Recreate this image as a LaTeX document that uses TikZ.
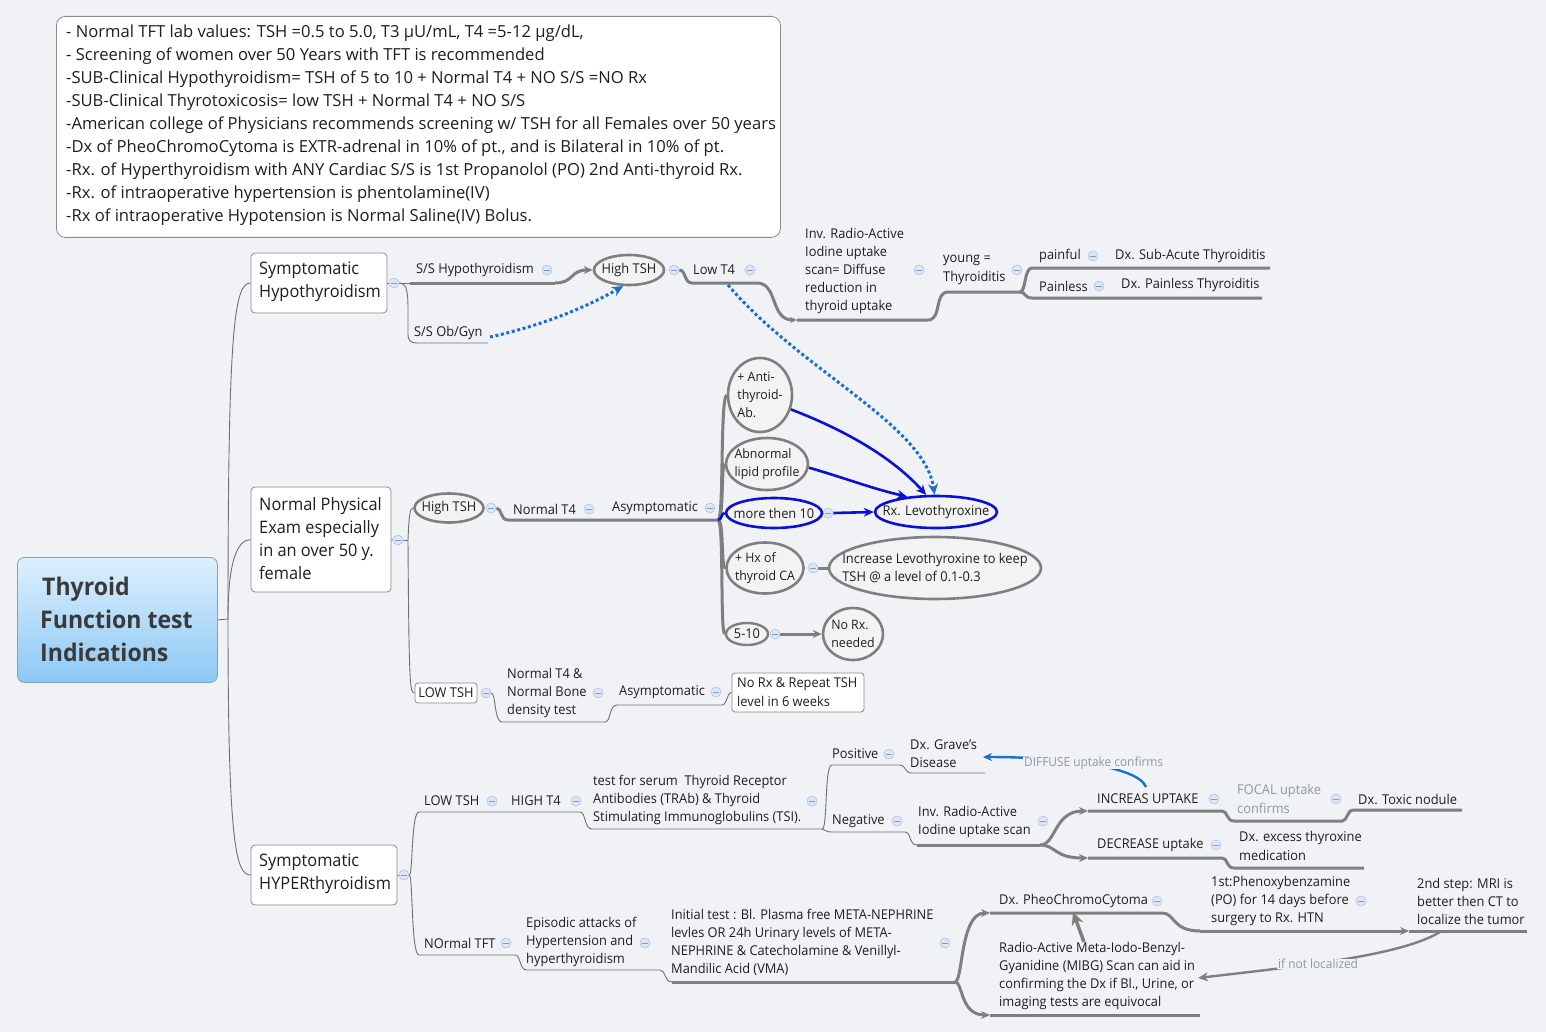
\documentclass[tikz,border=0pt]{standalone}
\usepackage{fontspec}
\setmainfont{Open Sans}[FakeStretch=0.95]
\newfontfamily\notesfont{Open Sans}[FakeStretch=1.0]
\usetikzlibrary{shapes.geometric,arrows.meta}
\pgfdeclarelayer{back}
\pgfdeclarelayer{lines}
\pgfsetlayers{back,lines,main}
\definecolor{bgc}{HTML}{F0F2F6}
\definecolor{lg}{HTML}{7F7F7F}
\definecolor{tg}{HTML}{707070}
\definecolor{txc}{HTML}{1E1E1E}
\definecolor{boxd}{HTML}{8A8A8A}
\definecolor{ellf}{HTML}{F3F3F3}
\definecolor{bblue}{HTML}{0A10D6}
\definecolor{dblue}{HTML}{1A6FD0}
\definecolor{foldf}{HTML}{DCE6F4}
\definecolor{foldd}{HTML}{AEC3E2}
\definecolor{foldm}{HTML}{7F9CC8}
\definecolor{roott}{HTML}{DDEFFD}
\definecolor{rootb}{HTML}{8CC8F5}
\definecolor{rootd}{HTML}{7BA3C6}
\definecolor{roottx}{HTML}{3A3A3A}
\definecolor{softtx}{HTML}{8C99A8}
\begin{document}
\begin{tikzpicture}[x=1pt,y=-1pt,
  txt/.style={inner sep=0pt, anchor=west, align=left, text=txc, font=\fontsize{13.5}{18}\selectfont},
  etxt/.style={txt, anchor=center, font=\fontsize{13}{18}\selectfont},
  bigtxt/.style={txt, font=\fontsize{17.2}{23}\selectfont},
  soft/.style={txt, text=softtx},
  fold/.style={circle, inner sep=0pt, minimum size=10pt, fill=foldf, draw=foldd, line width=0.6pt,
    path picture={\draw[foldm, line width=0.9pt] ([xshift=-2.6pt]path picture bounding box.center) -- ([xshift=2.6pt]path picture bounding box.center);}},
  thk/.style={draw=lg, line width=3pt},
  thn/.style={draw=tg, line width=0.9pt},
  ell/.style={ellipse, draw=lg, line width=2.6pt, fill=ellf, inner sep=0pt},
  bell/.style={ell, draw=bblue},
  topicbox/.style={rectangle, rounded corners=4pt, draw=boxd, fill=white, line width=0.8pt, inner sep=0pt},
  garr/.style={-{Stealth[length=9pt,width=8pt]}},
  barr/.style={draw=bblue, line width=2.6pt, -{Stealth[length=10pt,width=9pt]}},
  bline/.style={draw=bblue, line width=2.6pt},
  dotl/.style={draw=dblue, line width=3pt, dash pattern=on 3pt off 2.6pt, -{Stealth[length=11pt,width=10pt]}},
]
\begin{pgfonlayer}{back}
\fill[bgc] (0,0) rectangle (1546,1032);
\end{pgfonlayer}
\useasboundingbox (0,0) rectangle (1546,1032);

% notes
\node[topicbox, rounded corners=9pt, minimum width=724pt, minimum height=221pt, anchor=north west] (notes) at (56,16) {};
\node[txt, font=\notesfont\fontsize{16.6}{23}\selectfont] (notes-t) at (66,125) {- Normal TFT lab values: TSH =0.5 to 5.0, T3 µU/mL, T4 =5-12 µg/dL,\\- Screening of women over 50 Years with TFT is recommended\\-SUB-Clinical Hypothyroidism= TSH of 5 to 10 + Normal T4 + NO S/S =NO Rx\\-SUB-Clinical Thyrotoxicosis= low TSH + Normal T4 + NO S/S\\-American college of Physicians recommends screening w/ TSH for all Females over 50 years\\-Dx of PheoChromoCytoma is EXTR-adrenal in 10\% of pt., and is Bilateral in 10\% of pt.\\-Rx. of Hyperthyroidism with ANY Cardiac S/S is 1st Propanolol (PO) 2nd Anti-thyroid Rx.\\-Rx. of intraoperative hypertension is phentolamine(IV)\\-Rx of intraoperative Hypotension is Normal Saline(IV) Bolus.};

% root
\node[rectangle, rounded corners=7pt, draw=rootd, line width=0.8pt, top color=roott, bottom color=rootb, minimum width=200pt, minimum height=125pt, anchor=north west] (root) at (17,557) {};
\node[txt, text=roottx, font=\bfseries\fontsize{24.3}{33}\selectfont] (root-t) at (40,619) {\hspace{2pt}Thyroid\\Function test\\Indications};

% level 1
\node[topicbox, minimum width=136pt, minimum height=60pt] (sh) at (319,283) {};
\node[bigtxt] (sh-t) at (259,281.5) {Symptomatic\\Hypothyroidism};
\node[topicbox, minimum width=140pt, minimum height=105pt] (npe) at (321,539.5) {};
\node[bigtxt] (npe-t) at (259,538.5) {Normal Physical\\Exam especially\\in an over 50 y.\\female};
\node[topicbox, minimum width=146pt, minimum height=60pt] (shy) at (324,875) {};
\node[bigtxt] (shy-t) at (259,873.5) {Symptomatic\\HYPERthyroidism};

% folds
\foreach \nm/\px/\py in {fa/394/283, fb/547/270, fc/674/270, fd/750/270, fe/919/270, ff/1017/270, fg/1093/256, fh/1099/286,
  fnpe/398/540, fhts2/491/508, fnt4/589/509, fasym1/710/508, fmt10/828/513, fhx/813/568, f510/775/634,
  fltsh2/486/693, fntb/598/693, fasym2/716/692, fshy/404/875, fltsh3/492/801, fht4/576/801, fserum/812/801,
  fpos/889/754, fneg/897/821, finv2/1043/821, fincr/1214/799, fdecr/1216/845, ffocal/1336/799,
  fntft/506/943, fepi/645/943, finit/945/943, fpheo/1157/901, fphen/1361/901}
  {\node[fold] (\nm) at (\px,\py) {};}

% hypo branch
\node[txt] (sshypo) at (416,270) {S/S Hypothyroidism};
\node[txt] (ssob) at (414,333) {S/S Ob/Gyn};
\node[ell, minimum width=70pt, minimum height=30pt] (hts1) at (629,270) {};
\node[txt, anchor=center] (hts1-t) at (hts1) {High TSH};
\node[txt] (lowt4) at (693,270) {Low T4};
\node[txt] (inv1) at (805,270.5) {Inv. Radio-Active\\Iodine uptake\\scan= Diffuse\\reduction in\\thyroid uptake};
\node[txt, font=\fontsize{13.5}{19}\selectfont] (young) at (943,269.5) {young =\\Thyroiditis};
\node[txt] (painful) at (1039,256) {painful};
\node[txt] (subac) at (1115,256) {Dx. Sub-Acute Thyroiditis};
\node[txt] (painless) at (1039,286) {Painless};
\node[txt] (dxpainless) at (1121,285) {Dx. Painless Thyroiditis};

% normal branch
\node[ell, minimum width=69pt, minimum height=29pt] (hts2) at (449,508) {};
\node[txt, anchor=center] (hts2-t) at (hts2) {High TSH};
\node[txt] (nt4) at (513,509) {Normal T4};
\node[txt] (asym1) at (612,508) {Asymptomatic};
\node[ell, minimum width=64pt, minimum height=74pt] (anti) at (760,395) {};
\node[etxt] (anti-t) at (anti) {+ Anti-\\thyroid-\\Ab.};
\node[ell, minimum width=82pt, minimum height=52pt] (lipid) at (767,464) {};
\node[etxt] (lipid-t) at (lipid) {Abnormal\\lipid profile};
\node[bell, minimum width=96pt, minimum height=30pt] (mt10) at (774,513) {};
\node[txt, anchor=center] (mt10-t) at (mt10) {more then 10};
\node[ell, minimum width=77pt, minimum height=51pt] (hx) at (765,568) {};
\node[etxt] (hx-t) at (hx) {+ Hx of\\thyroid CA};
\node[ell, minimum width=42pt, minimum height=22pt, line width=2.4pt] (m510) at (747,634) {};
\node[txt, anchor=center] (m510-t) at (m510) {5-10};
\node[bell, minimum width=122pt, minimum height=32pt] (rxlevo) at (936,512) {};
\node[txt, anchor=center] (rxlevo-t) at (rxlevo) {Rx. Levothyroxine};
\node[ell, minimum width=212pt, minimum height=62pt] (incr) at (935,568) {};
\node[txt, anchor=center] (incr-t) at (incr) {Increase Levothyroxine to keep\\TSH @ a level of 0.1-0.3};
\node[ell, minimum width=60pt, minimum height=52pt] (norx) at (853,634) {};
\node[etxt] (norx-t) at (norx) {No Rx.\\needed};
\node[topicbox, rounded corners=3pt, minimum width=62pt, minimum height=20pt] (ltsh2) at (446,693) {};
\node[txt, anchor=center] (ltsh2-t) at (ltsh2) {LOW TSH};
\node[txt] (ntbone) at (507,692.5) {Normal T4 \&\\Normal Bone\\density test};
\node[txt] (asym2) at (619,692) {Asymptomatic};
\node[topicbox, rounded corners=3pt, minimum width=132pt, minimum height=39pt] (repeat) at (798,692.5) {};
\node[txt, font=\fontsize{13.5}{19}\selectfont] (repeat-t) at (737,692.5) {No Rx \& Repeat TSH\\level in 6 weeks};

% hyper branch
\node[txt] (ltsh3) at (424,801) {LOW TSH};
\node[txt] (ht4) at (511,801) {HIGH T4};
\node[txt] (serum) at (593,800) {test for serum\ \ Thyroid Receptor\\Antibodies (TRAb) \& Thyroid\\Stimulating Immunoglobulins (TSI).};
\node[txt] (pos) at (832,754) {Positive};
\node[txt] (graves) at (910,754) {Dx. Grave's\\Disease};
\node[txt] (neg) at (832,821) {Negative};
\node[txt] (inv2) at (918,821.5) {Inv. Radio-Active\\Iodine uptake scan};
\node[txt] (increas) at (1097,799) {INCREAS UPTAKE};
\node[txt] (decr) at (1097,845) {DECREASE uptake};
\node[soft, font=\fontsize{13.5}{19}\selectfont] (focal) at (1237,798.5) {FOCAL uptake\\confirms};
\node[txt] (toxic) at (1358,799) {Dx. Toxic nodule};
\node[txt, font=\fontsize{13.5}{19}\selectfont] (excess) at (1239,845.5) {Dx. excess thyroxine\\medication};
\node[txt] (ntft) at (424,943) {NOrmal TFT};
\node[txt] (epi) at (526,942) {Episodic attacks of\\Hypertension and\\hyperthyroidism};
\node[txt] (init) at (671,942.5) {Initial test : Bl. Plasma free META-NEPHRINE\\levles OR 24h Urinary levels of META-\\NEPHRINE \& Catecholamine \& Venillyl-\\Mandilic Acid (VMA)};
\node[txt] (pheo) at (999,901) {Dx. PheoChromoCytoma};
\node[txt] (phenoxy) at (1211,900.5) {1st:Phenoxybenzamine\\(PO) for 14 days before\\surgery to Rx. HTN};
\node[txt] (mri) at (1417,901) {2nd step: MRI is\\better then CT to\\localize the tumor};
\node[txt] (mibg) at (999,975.5) {Radio-Active Meta-Iodo-Benzyl-\\Gyanidine (MIBG) Scan can aid in\\confirming the Dx if Bl., Urine, or\\imaging tests are equivocal};

\begin{pgfonlayer}{lines}
% root connectors
\coordinate (rj) at (228,619);
\draw[thn] (root.east) -- (rj);
\draw[thn] (rj) .. controls (228,330) and (234,283) .. (sh.west);
\draw[thn] (rj) .. controls (228,565) and (236,540) .. (npe.west);
\draw[thn] (rj) .. controls (228,845) and (236,875) .. (shy.west);
% hypo
\draw[thn] (sh.east) -- (fa);
\draw[thn] (fa.east) -- (410,283);
\draw[thk] (410,283) -- (555,283);
\draw[thk, garr] (555,283) .. controls (574,283) and (570,270) .. (hts1.west);
\draw[thn] (fa.east) .. controls (408,283) and (408,295) .. (408,315) -- (408,334) .. controls (408,341) and (411,343) .. (417,343) -- (488,343);
\draw[dotl] (490,337) .. controls (540,326) and (585,308) .. (hts1.250);
\draw[thk] (fc.east) .. controls (686,270) and (684,283) .. (692,283) -- (757,283);
\draw[thk, -{Stealth[length=7pt,width=6pt]}] (757,283) .. controls (778,283) and (770,320) .. (797,320);
\draw[thk] (797,320) -- (928,320) .. controls (942,320) and (934,292) .. (948,292) -- (1020,292);
\draw[thk] (1020,292) .. controls (1026,292) and (1024,268) .. (1032,268) -- (1270,268);
\draw[thk] (1020,292) .. controls (1026,292) and (1024,298) .. (1032,298) -- (1262,298);
\draw[dotl] (728,285) .. controls (800,370) and (925,425) .. (rxlevo.95);
% normal
\draw[thn] (npe.east) -- (fnpe);
\draw[thn] (fnpe.east) -- (408,540);
\draw[thn] (408,540) .. controls (409,515) and (410,508) .. (hts2.west);
\draw[thn] (408,540) .. controls (409,688) and (410,693) .. (ltsh2.west);
\draw[thk] (fhts2.east) .. controls (502,508) and (500,520) .. (508,520) -- (718,520);
\coordinate (sp) at (718,520);
\draw[thk] (sp) .. controls (724,520) and (720,398) .. (anti.west);
\draw[thk] (sp) .. controls (724,520) and (721,464) .. (lipid.west);
\draw[thk] (sp) .. controls (724,520) and (721,568) .. (hx.west);
\draw[thk] (sp) .. controls (724,520) and (720,634) .. (m510.west);
\draw[bline] (sp) .. controls (722,520) and (721,513) .. (mt10.west);
\draw[barr] (fmt10.east) -- (rxlevo.west);
\draw[barr] (anti.-25) .. controls (850,432) and (895,460) .. (rxlevo.120);
\draw[barr] (lipid.-5) .. controls (845,478) and (870,488) .. (rxlevo.152);
\draw[thk] (fhx.east) -- (incr.west);
\draw[thk, garr] (f510.east) -- (norx.west);
\draw[thn] (fltsh2.east) .. controls (496,693) and (494,722) .. (502,722) -- (605,722) .. controls (611,722) and (609,705) .. (617,705) -- (722,705) .. controls (727,705) and (727,692.5) .. (repeat.west);
% hyper
\draw[thn] (shy.east) -- (fshy);
\draw[thn] (fshy.east) .. controls (413,875) and (411,812) .. (419,812) -- (580,812) .. controls (586,812) and (584,829) .. (592,829) -- (822,829);
\draw[thn] (822,829) .. controls (828,829) and (824,765) .. (832,765) -- (900,765) .. controls (906,765) and (904,773) .. (912,773) -- (985,773);
\draw[thn] (822,829) .. controls (826,829) and (824,832) .. (832,832) -- (905,832) .. controls (911,832) and (909,845) .. (917,845);
\draw[thk] (917,845) -- (1040,845);
\draw[thk, garr] (1040,845) .. controls (1056,845) and (1054,811) .. (1088,811);
\draw[thk, garr] (1040,845) .. controls (1056,845) and (1054,858) .. (1088,858);
\draw[thk] (1088,811) -- (1222,811) .. controls (1228,811) and (1226,821) .. (1234,821) -- (1342,821) .. controls (1348,821) and (1346,810) .. (1354,810) -- (1462,810);
\draw[thk] (1088,858) -- (1222,858) .. controls (1228,858) and (1226,868) .. (1234,868) -- (1364,868);
\draw[draw=dblue, line width=2.4pt, -{Stealth[length=9pt,width=8pt]}] (1146,787) .. controls (1138,766) and (1060,757) .. (983,757);
\draw[thn] (fshy.east) .. controls (413,875) and (411,955) .. (419,955) -- (515,955) .. controls (521,955) and (519,970) .. (527,970) -- (660,970) .. controls (666,970) and (664,982) .. (672,982);
\draw[thk] (672,982) -- (955,982);
\draw[thk, garr] (955,982) .. controls (963,982) and (960,913) .. (990,913);
\draw[thk, garr] (955,982) .. controls (963,982) and (960,1015) .. (990,1015);
\draw[thk] (990,913) -- (1162,913) .. controls (1175,913) and (1172,931) .. (1200,931);
\draw[thk, garr] (1200,931) -- (1409,931);
\draw[thk] (1409,931) -- (1527,931);
\draw[thk] (990,1015) -- (1200,1015);
\draw[draw=lg, line width=3.5pt, -{Stealth[length=13pt,width=12pt]}] (1084,942) -- (1073,912);
\draw[draw=lg, line width=2.4pt, -{Stealth[length=10pt,width=9pt]}] (1440,932) .. controls (1400,956) and (1300,966) .. (1198,978);
\end{pgfonlayer}

\node[soft, fill=bgc, inner xsep=1pt, font=\fontsize{12.5}{16}\selectfont] (diffuse) at (1023,763) {DIFFUSE uptake confirms};
\node[soft, fill=bgc, inner xsep=1pt, font=\fontsize{12.5}{16}\selectfont] (notloc) at (1277,964) {if not localized};
\end{tikzpicture}
\end{document}
